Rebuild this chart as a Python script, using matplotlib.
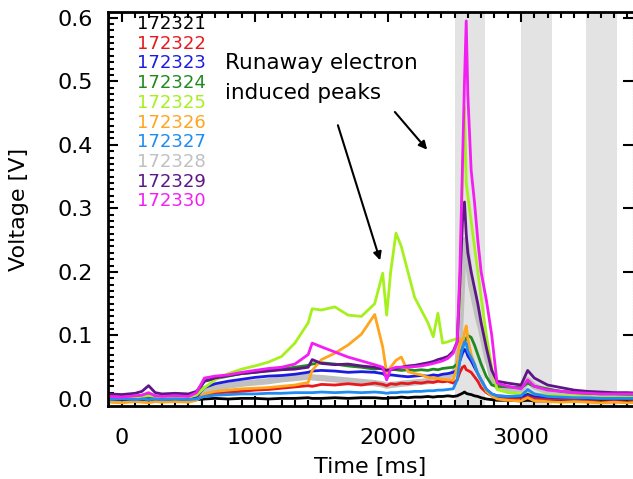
import matplotlib
matplotlib.use("Agg")
import matplotlib.pyplot as plt
import numpy as np

# time grid (ms) shared by all shots
t = [-100, 0, 100, 150, 200, 250, 300, 400, 500, 560,
     620, 700, 800, 900, 1000, 1100, 1200, 1300, 1400, 1430,
     1500, 1600, 1700, 1800, 1900, 1960, 1990, 2020, 2060, 2100,
     2150, 2200, 2250, 2300, 2340, 2375, 2410, 2450, 2490, 2520,
     2540, 2560, 2575, 2588, 2600, 2625, 2650, 2675, 2700, 2740,
     2780, 2820, 2900, 3000, 3050, 3100, 3200, 3300, 3400, 3500,
     3600, 3700, 3800, 3900]

v172321 = [-0.002, -0.001, -0.002, -0.001, -0.002, -0.001, -0.002, -0.001, -0.002, -0.001,
           0.0, 0.001, 0.0, 0.001, 0.001, 0.0, 0.001, 0.001, 0.002, 0.001,
           0.001, 0.002, 0.001, 0.002, 0.002, 0.001, 0.001, 0.002, 0.002, 0.003,
           0.002, 0.003, 0.003, 0.004, 0.003, 0.004, 0.004, 0.005, 0.004, 0.005,
           0.007, 0.009, 0.011, 0.009, 0.008, 0.007, 0.005, 0.004, 0.002, 0.0,
           -0.001, -0.002, -0.002, -0.003, -0.002, -0.003, -0.003, -0.004, -0.003, -0.004,
           -0.004, -0.003, -0.004, -0.004]
v172322 = [0.0, 0.001, 0.0, 0.001, 0.0, 0.001, 0.0, 0.001, 0.0, 0.002,
           0.006, 0.009, 0.011, 0.012, 0.014, 0.015, 0.017, 0.019, 0.021, 0.020,
           0.023, 0.022, 0.024, 0.022, 0.025, 0.023, 0.021, 0.024, 0.023, 0.025,
           0.024, 0.026, 0.025, 0.027, 0.026, 0.028, 0.027, 0.028, 0.025, 0.03,
           0.042, 0.05, 0.052, 0.046, 0.045, 0.042, 0.035, 0.028, 0.018, 0.01,
           0.005, 0.003, 0.002, 0.002, 0.004, 0.002, 0.001, 0.0, 0.0, -0.001,
           0.0, -0.001, 0.0, -0.001]
v172323 = [0.0, 0.002, 0.001, 0.002, 0.001, 0.002, 0.001, 0.002, 0.001, 0.004,
           0.018, 0.024, 0.028, 0.031, 0.034, 0.036, 0.037, 0.039, 0.042, 0.044,
           0.045, 0.044, 0.042, 0.043, 0.042, 0.040, 0.036, 0.038, 0.037, 0.036,
           0.035, 0.036, 0.037, 0.036, 0.038, 0.037, 0.039, 0.04, 0.042, 0.045,
           0.06, 0.072, 0.078, 0.075, 0.068, 0.06, 0.05, 0.04, 0.03, 0.015,
           0.008, 0.005, 0.004, 0.004, 0.008, 0.005, 0.003, 0.002, 0.002, 0.001,
           0.001, 0.0, 0.001, 0.0]
v172324 = [0.004, 0.005, 0.004, 0.006, 0.008, 0.005, 0.004, 0.005, 0.004, 0.008,
           0.028, 0.032, 0.036, 0.04, 0.042, 0.045, 0.047, 0.05, 0.053, 0.055,
           0.057, 0.055, 0.052, 0.05, 0.047, 0.049, 0.046, 0.047, 0.046, 0.045,
           0.046, 0.045, 0.046, 0.045, 0.047, 0.046, 0.048, 0.049, 0.05, 0.055,
           0.07, 0.08, 0.09, 0.095, 0.1, 0.097, 0.085, 0.07, 0.055, 0.035,
           0.022, 0.02, 0.019, 0.018, 0.025, 0.02, 0.016, 0.012, 0.01, 0.009,
           0.008, 0.008, 0.007, 0.007]
v172325 = [0.003, 0.004, 0.003, 0.004, 0.005, 0.004, 0.003, 0.004, 0.003, 0.006,
           0.018, 0.03, 0.04, 0.047, 0.052, 0.058, 0.067, 0.088, 0.12, 0.142,
           0.14, 0.145, 0.132, 0.13, 0.15, 0.198, 0.132, 0.2, 0.261, 0.24,
           0.2, 0.16, 0.14, 0.12, 0.098, 0.135, 0.088, 0.09, 0.093, 0.095,
           0.16, 0.35, 0.46, 0.34, 0.32, 0.28, 0.24, 0.2, 0.16, 0.1,
           0.05, 0.015, 0.01, 0.008, 0.012, 0.008, 0.006, 0.005, 0.004, 0.004,
           0.003, 0.003, 0.003, 0.003]
v172326 = [-0.005, -0.006, -0.004, -0.005, -0.006, -0.004, -0.005, -0.004, -0.005, -0.002,
           0.008, 0.012, 0.014, 0.016, 0.017, 0.018, 0.02, 0.022, 0.026, 0.045,
           0.062, 0.072, 0.085, 0.102, 0.133, 0.082, 0.041, 0.05, 0.061, 0.066,
           0.043, 0.04, 0.038, 0.034, 0.033, 0.032, 0.031, 0.03, 0.03, 0.05,
           0.095, 0.085, 0.105, 0.115, 0.095, 0.07, 0.055, 0.04, 0.03, 0.012,
           0.005, 0.0, -0.002, -0.003, 0.002, -0.003, -0.004, -0.005, -0.004, -0.005,
           -0.006, -0.005, -0.006, -0.005]
v172327 = [-0.001, 0.0, -0.001, 0.0, -0.001, 0.0, -0.001, 0.0, -0.001, 0.0,
           0.004, 0.006, 0.007, 0.008, 0.008, 0.009, 0.009, 0.01, 0.01, 0.01,
           0.011, 0.01, 0.011, 0.01, 0.011, 0.01, 0.009, 0.01, 0.01, 0.011,
           0.011, 0.012, 0.012, 0.013, 0.013, 0.014, 0.014, 0.015, 0.016, 0.03,
           0.06, 0.08, 0.09, 0.088, 0.075, 0.065, 0.055, 0.04, 0.03, 0.015,
           0.008, 0.005, 0.004, 0.005, 0.015, 0.008, 0.004, 0.003, 0.002, 0.002,
           0.001, 0.001, 0.001, 0.001]
v172328 = [0.0, 0.001, 0.0, 0.001, 0.002, 0.001, 0.0, 0.001, 0.0, 0.003,
           0.012, 0.017, 0.021, 0.024, 0.026, 0.028, 0.031, 0.033, 0.035, 0.034,
           0.033, 0.031, 0.029, 0.027, 0.025, 0.023, 0.021, 0.022, 0.023, 0.024,
           0.025, 0.026, 0.027, 0.028, 0.03, 0.031, 0.033, 0.035, 0.04, 0.05,
           0.1, 0.2, 0.25, 0.24, 0.22, 0.18, 0.155, 0.13, 0.11, 0.07,
           0.035, 0.02, 0.016, 0.015, 0.03, 0.02, 0.012, 0.01, 0.008, 0.007,
           0.007, 0.006, 0.006, 0.006]
v172329 = [0.008, 0.007, 0.009, 0.012, 0.021, 0.01, 0.008, 0.009, 0.008, 0.012,
           0.028, 0.033, 0.037, 0.04, 0.042, 0.044, 0.046, 0.047, 0.05, 0.062,
           0.056, 0.054, 0.055, 0.052, 0.05, 0.047, 0.045, 0.046, 0.048, 0.05,
           0.052, 0.053, 0.055, 0.057, 0.059, 0.062, 0.064, 0.067, 0.075, 0.09,
           0.18, 0.28, 0.31, 0.26, 0.23, 0.2, 0.175, 0.15, 0.12, 0.08,
           0.045, 0.028, 0.025, 0.022, 0.045, 0.033, 0.022, 0.018, 0.014, 0.012,
           0.011, 0.01, 0.01, 0.009]
v172330 = [0.004, 0.003, 0.005, 0.006, 0.01, 0.005, 0.004, 0.005, 0.004, 0.01,
           0.033, 0.036, 0.038, 0.042, 0.045, 0.048, 0.05, 0.055, 0.07, 0.088,
           0.082, 0.074, 0.066, 0.06, 0.054, 0.05, 0.03, 0.047, 0.05, 0.05,
           0.05, 0.051, 0.052, 0.054, 0.056, 0.058, 0.06, 0.064, 0.072, 0.09,
           0.2, 0.37, 0.5, 0.595, 0.48, 0.36, 0.31, 0.25, 0.2, 0.155,
           0.1, 0.025, 0.02, 0.016, 0.03, 0.02, 0.014, 0.012, 0.01, 0.009,
           0.008, 0.008, 0.008, 0.008]

shots = ["172321", "172322", "172323", "172324", "172325",
         "172326", "172327", "172328", "172329", "172330"]
series = [v172321, v172322, v172323, v172324, v172325,
          v172326, v172327, v172328, v172329, v172330]
colors = ["black", "#e8191c", "#1c1ce0", "#1f8a1f", "#a6f01e",
          "#ffa51e", "#1e8cf0", "#c0c0c0", "#5e1686", "#f21ef2"]

# shaded time windows (ms)
spans = [(2500, 2730), (3000, 3230), (3490, 3720)]

fig = plt.figure(figsize=(6.33, 4.79), dpi=100)
ax = fig.add_axes([108 / 633, 73 / 479, 524.5 / 633, 394 / 479])

for a, b in spans:
    ax.axvspan(a, b, color="#e3e3e3", lw=0, zorder=0)

# gray drawn first, thick, the rest on top
order = [7, 0, 1, 2, 3, 4, 5, 6, 8, 9]
for i in order:
    lw = 4.5 if i == 7 else 2.0
    ax.plot(t, series[i], color=colors[i], lw=lw, zorder=2)

ax.set_xlim(-105, 3838)
ax.set_ylim(-0.011, 0.609)
ax.set_xticks([0, 1000, 2000, 3000])
ax.set_xticks(np.arange(-100, 3900, 100), minor=True)
ax.set_yticks([0.0, 0.1, 0.2, 0.3, 0.4, 0.5, 0.6])
ax.set_yticks(np.arange(0.0, 0.61, 0.01), minor=True)
ax.set_yticklabels(["0.0", "0.1", "0.2", "0.3", "0.4", "0.5", "0.6"])
ax.tick_params(which="both", direction="in", top=True, right=True, labelsize=16, width=1.5)
ax.tick_params(which="major", length=7)
ax.tick_params(which="minor", length=4)
ax.tick_params(axis="x", which="major", pad=16)
ax.tick_params(axis="y", which="major", pad=11)
ax.tick_params(axis="y", which="minor", right=False)
for s in ["left", "bottom", "top"]:
    ax.spines[s].set_linewidth(2)
ax.spines["right"].set_linestyle(":")
ax.spines["right"].set_color("#999999")
ax.spines["right"].set_linewidth(0.8)

ax.set_xlabel("Time [ms]", fontsize=16, labelpad=6)
ax.set_ylabel("Voltage [V]", fontsize=16, labelpad=20)

# shot list
for k in range(len(shots)):
    ax.text(113, 0.590 - 0.031 * k, shots[k], color=colors[k], fontsize=13,
            va="center", ha="left")

ax.text(774, 0.529, "Runaway electron", fontsize=15.5, va="center", ha="left")
ax.text(774, 0.482, "induced peaks", fontsize=15.5, va="center", ha="left")
ax.annotate("", xy=(1947, 0.214), xytext=(1617, 0.435),
            arrowprops=dict(arrowstyle="-|>", color="black", lw=1.5, mutation_scale=12))
ax.annotate("", xy=(2308, 0.389), xytext=(2038, 0.455),
            arrowprops=dict(arrowstyle="-|>", color="black", lw=1.5, mutation_scale=12))

fig.savefig("out.png", dpi=100)
